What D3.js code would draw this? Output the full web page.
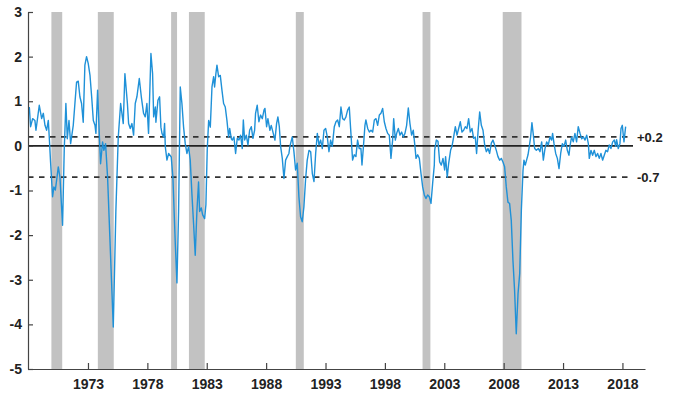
<!DOCTYPE html>
<html>
<head>
<meta charset="utf-8">
<script src="https://d3js.org/d3.v7.min.js"></script>
<style>
  body { margin: 0; background: #fff; }
  #chart text { font-family: "Liberation Sans", Arial, Helvetica, sans-serif; font-weight: bold; fill: #222; }
</style>
</head>
<body>
<div id="chart"></div>
<script>
// monthly index (decimal year, value)
var years = [
  1968.06, 1968.17, 1968.34, 1968.53, 1968.62, 1968.90, 1969.10, 1969.24, 1969.38, 1969.52,
  1969.66, 1969.74, 1969.85, 1970.02, 1970.13, 1970.25, 1970.36, 1970.50, 1970.64, 1970.86,
  1971.00, 1971.14, 1971.26, 1971.40, 1971.54, 1971.76, 1971.90, 1972.04, 1972.18, 1972.32,
  1972.46, 1972.60, 1972.74, 1972.88, 1973.02, 1973.17, 1973.31, 1973.45, 1973.59, 1973.67,
  1973.81, 1973.95, 1974.06, 1974.23, 1974.34, 1974.48, 1974.65, 1975.13, 1975.35, 1975.55,
  1975.75, 1975.97, 1976.11, 1976.32,
  1976.42, 1976.56, 1976.70, 1976.84, 1976.98, 1977.12, 1977.32, 1977.49, 1977.68, 1977.82,
  1977.96, 1978.10, 1978.30, 1978.44, 1978.53, 1978.67, 1978.72, 1978.89, 1979.03, 1979.14,
  1979.23, 1979.37, 1979.45, 1979.51, 1979.65, 1979.79, 1980.01, 1980.15, 1980.35, 1980.49,
  1980.63, 1980.77, 1980.91, 1981.05, 1981.19, 1981.33, 1981.47, 1981.61, 1981.75, 1981.89,
  1982.03, 1982.17, 1982.31, 1982.40, 1982.54, 1982.65, 1982.82, 1982.93, 1983.04, 1983.16,
  1983.30, 1983.44, 1983.58, 1983.66, 1983.77, 1983.86, 1984.00, 1984.14, 1984.28, 1984.42,
  1984.56, 1984.70, 1984.84, 1984.93, 1985.07,
  1985.15, 1985.29, 1985.43, 1985.57, 1985.71, 1985.85, 1985.99, 1986.08, 1986.19, 1986.33,
  1986.47, 1986.61, 1986.75, 1986.89, 1987.03, 1987.11, 1987.25, 1987.39, 1987.53, 1987.68,
  1987.82, 1987.90, 1988.04, 1988.15, 1988.32, 1988.43, 1988.60, 1988.74, 1988.88, 1988.99,
  1989.11, 1989.22, 1989.36, 1989.50, 1989.64, 1989.78, 1989.92, 1990.00, 1990.20, 1990.34,
  1990.48, 1990.62, 1990.76, 1990.90, 1991.04, 1991.18, 1991.32, 1991.46, 1991.61, 1991.75,
  1991.89, 1992.03, 1992.17, 1992.31, 1992.45, 1992.59, 1992.73, 1992.87, 1993.01, 1993.15,
  1993.29, 1993.43, 1993.57,
  1993.74, 1993.88, 1994.02, 1994.16, 1994.30, 1994.44, 1994.58, 1994.72, 1994.86, 1995.00,
  1995.14, 1995.28, 1995.42, 1995.56, 1995.70, 1995.84, 1995.98, 1996.07, 1996.18, 1996.32,
  1996.40, 1996.55, 1996.69, 1996.83, 1996.97, 1997.11, 1997.25, 1997.39, 1997.53, 1997.67,
  1997.81, 1997.95, 1998.09, 1998.23, 1998.37, 1998.51, 1998.65, 1998.74, 1998.88, 1998.99,
  1999.13, 1999.27, 1999.41, 1999.55, 1999.69, 1999.83, 1999.97, 2000.11, 2000.25, 2000.39,
  2000.53, 2000.62, 2000.76, 2000.90, 2001.04, 2001.18, 2001.32, 2001.46, 2001.60, 2001.74,
  2001.88, 2002.02, 2002.16,
  2002.19, 2002.33, 2002.47, 2002.61, 2002.75, 2002.89, 2003.03, 2003.11, 2003.25, 2003.37,
  2003.53, 2003.65, 2003.79, 2003.93, 2004.07, 2004.21, 2004.35, 2004.49, 2004.63, 2004.77,
  2004.91, 2005.05, 2005.19, 2005.33, 2005.47, 2005.61, 2005.72, 2005.84, 2005.98, 2006.12,
  2006.26, 2006.40, 2006.54, 2006.68, 2006.82, 2006.96, 2007.10, 2007.24, 2007.38, 2007.52,
  2007.66, 2007.80, 2007.94, 2008.08, 2008.22, 2008.36, 2008.50, 2008.64, 2008.78, 2008.92,
  2009.06, 2009.21, 2009.35, 2009.49, 2009.63, 2009.71, 2009.82, 2009.93, 2010.05, 2010.16,
  2010.27, 2010.38, 2010.50, 2010.61, 2010.75,
  2010.92, 2011.06, 2011.20, 2011.34, 2011.48, 2011.62, 2011.76, 2011.90, 2012.04, 2012.12,
  2012.24, 2012.38, 2012.52, 2012.66, 2012.80, 2012.94, 2013.08, 2013.22, 2013.36, 2013.50,
  2013.58, 2013.72, 2013.86, 2014.00, 2014.14, 2014.28, 2014.43, 2014.57, 2014.71, 2014.85,
  2014.99, 2015.13, 2015.21, 2015.35, 2015.49, 2015.63, 2015.77, 2015.91, 2016.05, 2016.19,
  2016.33, 2016.47, 2016.61, 2016.75, 2016.89, 2017.03, 2017.18, 2017.32, 2017.43, 2017.51,
  2017.65, 2017.79, 2017.88, 2017.99, 2018.13, 2018.27
]
var values = [
  0.87, 0.43, 0.61, 0.57, 0.35, 0.91, 0.61, 0.73, 0.46, 0.35,
  0.57, 0.20, -0.36, -1.14, -0.92, -0.99, -0.77, -0.47, -0.70, -1.78,
  -0.10, 0.95, 0.16, 0.57, 0.05, 0.46, 0.95, 1.43, 1.45, 1.10,
  0.95, 0.53, 1.81, 2.00, 1.85, 1.58, 1.10, 0.57, 0.46, 0.28,
  1.25, 0.28, -0.40, 0.09, -0.10, 0.05, -0.70, -4.06, -1.44, 0.20,
  0.95, 0.50, 1.62, 0.95,
  0.50, 0.39, 0.50, 0.24, 0.95, 1.10, 1.51, 1.10, 0.73, 0.65,
  0.95, 0.28, 2.07, 1.62, 0.65, 0.87, 0.53, 1.02, 1.10, 0.42,
  0.28, 0.20, 0.50, -0.02, -0.32, -0.17, -0.25, -0.70, -2.18, -3.07,
  -1.47, 1.32, 0.95, 0.42, 0.05, -0.17, -0.02, -0.32, -1.07, -1.74,
  -2.45, -1.47, -0.81, -1.47, -1.39, -1.54, -1.63, -1.32, -0.10, 0.57,
  0.42, 1.32, 1.55, 1.32, 1.62, 1.81, 1.55, 1.58, 1.25, 0.95,
  0.87, 0.57, 0.20, 0.39, 0.16,
  0.13, 0.20, -0.17, 0.17, 0.13, 0.24, -0.06, 0.58, 0.13, 0.24,
  0.02, 0.35, 0.43, 0.17, 0.35, 0.73, 0.91, 0.54, 0.69, 0.61,
  0.80, 0.84, 0.43, 0.61, 0.35, 0.46, 0.28, 0.13, 0.50, 0.65,
  0.43, -0.01, -0.28, -0.73, -0.32, -0.24, -0.17, -0.01, 0.20, -0.13,
  -0.54, -0.39, -1.14, -1.59, -1.70, -1.37, -0.76, -0.32, -0.10, -0.13,
  -0.62, -0.80, -0.17, 0.28, 0.02, 0.13, -0.06, 0.35, 0.39, 0.20,
  -0.13, 0.13, -0.01,
  0.43, 0.54, 0.58, 0.43, 0.87, 0.61, 0.58, 0.65, 0.80, 0.87,
  0.28, -0.32, -0.20, -0.24, 0.13, -0.06, -0.06, -0.43, -0.06, 0.46,
  0.58, 0.39, 0.31, 0.35, 0.31, 0.58, 0.61, 0.46, 0.69, 0.73,
  0.84, 0.54, 0.39, 0.28, 0.24, -0.28, 0.13, 0.61, 0.13, 0.28,
  0.39, 0.24, 0.31, 0.20, 0.28, 0.46, 0.85, 0.50, 0.24, 0.35,
  -0.01, -0.28, -0.20, -0.28, -0.62, -0.92, -1.10, -1.18, -1.10, -1.14,
  -1.29, -0.84, -0.43,
  -0.10, 0.13, 0.10, -0.36, -0.43, -0.28, -0.54, -0.24, -0.70, -0.39,
  -0.10, -0.01, 0.20, 0.43, 0.24, 0.39, 0.54, 0.31, 0.35, 0.43,
  0.39, 0.61, 0.31, 0.39, 0.17, 0.20, -0.17, 0.31, 0.76, 0.46,
  0.35, 0.02, -0.13, -0.06, -0.17, 0.06, 0.13, 0.02, -0.10, -0.24,
  -0.32, -0.28, -0.36, -0.47, -0.92, -1.26, -1.29, -1.67, -2.56, -3.24,
  -4.21, -3.31, -2.86, -1.44, -0.54, -0.32, -0.43, -0.32, -0.20, -0.01,
  0.20, 0.52, 0.24, -0.06, -0.10,
  -0.06, -0.13, 0.09, -0.32, -0.06, 0.09, 0.02, 0.20, 0.13, 0.28,
  0.05, -0.17, -0.28, -0.51, -0.17, 0.05, -0.01, 0.13, -0.10, -0.21,
  -0.01, 0.20, 0.09, 0.28, 0.09, 0.43, 0.28, 0.16, 0.20, 0.13,
  0.24, 0.05, -0.28, -0.10, -0.21, -0.10, -0.24, -0.17, -0.28, -0.17,
  -0.32, -0.21, -0.10, -0.13, 0.02, -0.06, 0.09, 0.13, -0.01, 0.14,
  -0.06, 0.05, 0.39, 0.46, 0.09, 0.43
]

// NBER recessions (peak, trough)
var recStart = [1969.92, 1973.83, 1980.00, 1981.50, 1990.50, 2001.17, 2007.92]
var recEnd   = [1970.83, 1975.17, 1980.50, 1982.83, 1991.17, 2001.83, 2009.50]

var xTicks = [1973, 1978, 1983, 1988, 1993, 1998, 2003, 2008, 2013, 2018]
var yTicks = [-5, -4, -3, -2, -1, 0, 1, 2, 3]
var thresholds = [0.2, -0.7]
var thresholdLabels = ['+0.2', '-0.7']

var width = 680
var height = 394

var x = d3.scaleLinear().domain([1967.95, 2019.9]).range([28, 645])
var y = d3.scaleLinear().domain([-5, 3]).range([369, 12])

var svg = d3.select('#chart')
  .append('svg')
  .attr('width', width)
  .attr('height', height)

// recession shading
svg.append('g')
  .selectAll('rect')
  .data(recStart)
  .enter()
  .append('rect')
  .attr('x', (d) => x(d))
  .attr('width', (d, i) => x(recEnd[i]) - x(d))
  .attr('y', y(3))
  .attr('height', y(-5) - y(3))
  .attr('fill', '#c2c2c2')

// zero line
svg.append('line')
  .attr('x1', x.range()[0])
  .attr('x2', 633)
  .attr('y1', y(0))
  .attr('y2', y(0))
  .attr('stroke', '#222')
  .attr('stroke-width', 1.9)

// threshold lines
svg.append('g')
  .selectAll('line')
  .data(thresholds)
  .enter()
  .append('line')
  .attr('x1', x.range()[0])
  .attr('x2', 629)
  .attr('y1', (d) => y(d))
  .attr('y2', (d) => y(d))
  .attr('stroke', '#333')
  .attr('stroke-width', 1.7)
  .attr('stroke-dasharray', '5.5,5.5')

svg.append('g')
  .selectAll('text')
  .data(thresholds)
  .enter()
  .append('text')
  .attr('x', 637)
  .attr('y', (d) => y(d))
  .attr('dy', '0.35em')
  .style('font-size', '13px')
  .text((d, i) => thresholdLabels[i])

// the index
var series = years.map((d, i) => ({ t: d, v: values[i] }))

svg.append('path')
  .datum(series)
  .attr('fill', 'none')
  .attr('stroke', '#1f91d8')
  .attr('stroke-width', 1.4)
  .attr('stroke-linejoin', 'round')
  .attr('d', d3.line()
    .x((d) => x(d.t))
    .y((d) => y(d.v)))

// axes
var xAxis = svg.append('g')
  .attr('transform', 'translate(0,' + y(-5) + ')')
  .call(d3.axisBottom(x)
    .tickValues(xTicks)
    .tickFormat((d) => String(d))
    .tickSizeInner(-6)
    .tickSizeOuter(0)
    .tickPadding(10))

var yAxis = svg.append('g')
  .attr('transform', 'translate(' + x.range()[0] + ',0)')
  .call(d3.axisLeft(y)
    .tickValues(yTicks)
    .tickFormat((d) => String(d))
    .tickSizeInner(-5)
    .tickSizeOuter(0)
    .tickPadding(6))

svg.selectAll('.domain, .tick line')
  .attr('stroke', '#444')
  .attr('stroke-width', 1.2)
svg.selectAll('.tick text')
  .style('font-size', '14px')
  .attr('fill', '#222')
</script>
</body>
</html>
